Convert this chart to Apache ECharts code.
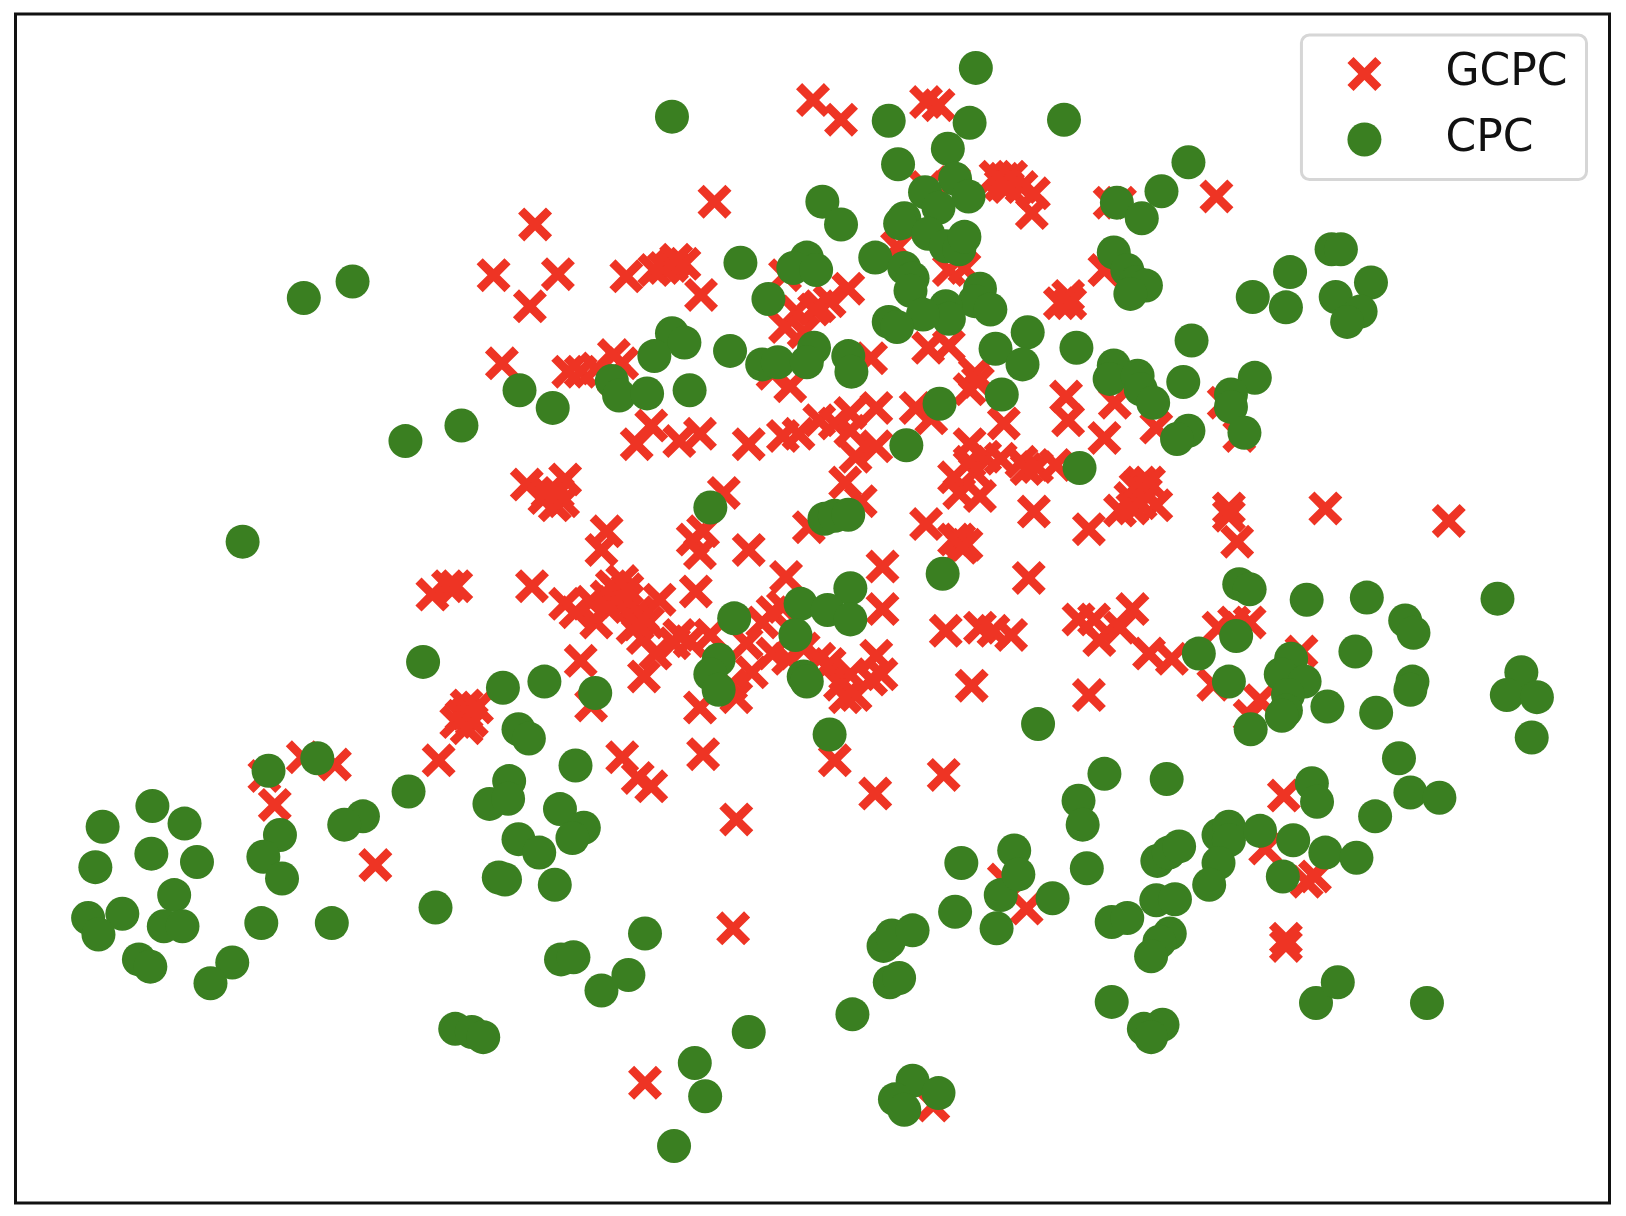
<!DOCTYPE html>
<html><head><meta charset="utf-8">
<script src="https://cdn.jsdelivr.net/npm/echarts@6/dist/echarts.min.js"></script>
<style>html,body{margin:0;padding:0;background:#fff}#c{width:1626px;height:1216px;filter:blur(0.7px)}</style>
</head><body><div id="c"></div>
<script>
const seriesNames = ['GCPC', 'CPC'];
const gcpc = [[784,96],[811,115],[893,98],[905,101],[689,194],[516,216],[476,265],[538,264],[511,295],[604,266],[631,260],[648,256],[660,254],[640,258],[652,250],[676,284],[484,350],
[548,358],[560,358],[575,355],[592,342],[600,350],[592,365],
[960,170],[968,172],[975,170],[965,178],[972,180],[985,180],[997,186],[995,205],[1070,195],[1080,195],[1173,189],
[893,180],[920,175],[865,238],[915,260],[930,258],
[757,265],[768,300],[790,295],[800,290],[785,298],[818,278],[757,315],[775,320],
[1030,285],[1022,292],[1032,292],[1065,260],
[762,372],[745,360],[840,345],[895,335],[915,333],[940,360],[935,375],[943,368],[883,393],[898,403],[968,408],[1028,382],[1030,405],[1075,388],[1115,412],[1065,422],[1195,420],[1180,388],
[628,410],[614,428],[655,425],[675,418],[722,428],[755,420],[770,418],[790,405],[805,408],[820,398],[845,393],[820,415],[825,440],[845,430],[815,465],[830,483],
[935,428],[950,440],[965,442],[985,445],[990,452],[1000,450],[1018,448],[920,460],[940,455],[925,475],[945,478],[935,445],
[997,493],[1050,510],[893,505],[925,520],[932,525],[920,520],[928,528],
[1100,465],[1105,475],[1090,480],[1115,487],[1080,492],[1095,470],[1100,485],[1108,465],[1092,490],
[1185,490],[1185,497],[1193,522],[1278,490],[1397,502],
[508,467],[545,462],[525,480],[543,483],[535,487],[528,475],[538,475],
[698,475],[780,508],[585,512],[580,530],[668,520],[678,512],[675,533],[722,530],
[417,573],[432,565],[440,565],[513,565],[758,556],[851,546],[671,570],[992,557],
[595,570],[585,575],[605,578],[570,580],[545,582],[555,590],[575,600],[615,590],[610,605],[636,578],[625,600],[620,615],[590,565],[600,560],[595,580],[585,585],[605,568],[615,602],
[851,587],[560,637],[621,652],[632,630],[650,620],[665,618],[685,612],[655,612],[720,620],[735,600],[745,590],[755,585],[725,648],[745,630],[760,635],[775,625],[705,660],
[800,640],[820,650],[810,660],[840,655],[845,632],[850,650],[825,670],[815,672],[790,635],
[912,608],[945,605],[958,608],[975,612],[937,661],[1050,670],
[1040,597],[1055,597],[1092,587],[1060,617],[1080,605],[1108,630],[1130,635],
[1175,605],[1205,600],[1190,600],[1170,660],[1215,675],[1205,690],[1255,628],
[570,680],[675,682],[710,672],[450,688],[455,695],[445,690],[450,680],[440,696],[460,682],[450,702],[423,733],[678,727],[600,730],[615,750],[628,758],[805,733],[844,765],[910,747],[710,790],
[1238,767],[1220,818],[1260,850],[1268,845],[1240,905],[1240,912],[707,895],
[255,748],[292,730],[323,737],[265,776],[362,834],[968,848],[990,876],[622,1044],[900,1066]];
const cpc = [[941,65],[648,112],[857,116],[935,118],[1026,115],[914,143],[866,158],[921,172],[892,185],[934,189],[793,194],[811,216],[905,200],[872,210],[868,215],[895,225],[912,237],[925,240],[930,228],[1146,156],[1120,184],[1077,195],[1101,210],[1074,243],[1087,260],[1095,272],[1105,275],[1090,283],
[1284,240],[1293,240],[1244,262],[1208,286],[1240,296],[1288,286],[1322,272],[1312,300],[1299,310],
[293,287],[340,271],[714,253],[778,248],[765,258],[787,260],[844,248],[872,258],[880,268],[878,280],[741,288],[945,278],[940,290],[955,298],[912,295],[915,307],[890,303],[857,310],[865,315],
[648,321],[660,330],[631,343],[704,338],[735,351],[750,349],[785,335],[778,349],[818,343],[821,358],[991,320],[960,336],[986,351],[1038,335],[1149,328],
[501,376],[533,393],[590,367],[597,381],[624,379],[665,376],[966,380],[906,389],[445,410],[391,425],[874,429],
[1074,352],[1070,365],[1097,362],[1100,375],[1112,388],[1141,368],[1210,364],[1187,380],[1187,392],[1200,417],[1146,415],[1135,423],
[1041,451],[685,489],[795,500],[805,497],[818,496],[234,522],[909,553],
[1195,563],[1205,568],[1260,578],[1318,576],[1355,598],[1363,610],[1444,577],[1192,613],[820,567],[772,582],[798,588],[820,597],[708,596],[767,612],
[408,638],[1156,630],[1307,628],[1245,635],[1235,650],[1258,657],[1242,670],[1240,685],[1236,690],[1185,657],[1280,681],[1362,657],[1360,665],[1327,687],[1206,703],
[1467,648],[1453,670],[1482,672],[1477,711],[1001,698],[485,663],[525,657],[574,668],[693,636],[685,650],[693,665],[775,652],[778,657],[500,703],[510,712],[555,738],[800,708],
[1349,731],[1065,746],[1125,751],[1265,755],[1270,773],[1360,764],[1388,769],[1326,787],
[259,743],[306,731],[394,763],[350,787],[332,795],[491,753],[472,775],[490,770],[540,780],[563,798],[552,808],[500,809],[520,822],[481,846],[487,848],[535,853],[270,805],[254,826],[272,847],
[147,777],[99,797],[178,794],[146,823],[92,836],[190,831],[168,863],[118,881],[85,885],[95,901],[158,893],[176,893],[252,890],[320,890],[420,875],[134,925],[145,932],[224,928],[203,948],
[622,900],[541,925],[553,923],[606,940],[580,955],[722,995],[439,992],[455,995],[466,1000],[670,1025],[680,1057],[650,1105],
[880,1042],[863,1060],[872,1070],[905,1054],[822,978],[857,908],[852,912],[860,902],[880,897],[858,947],[867,943],
[921,879],[961,895],[965,863],[978,820],[982,843],[927,832],[1015,866],[1040,772],[1044,795],[1048,837],
[1072,889],[1087,885],[1116,830],[1127,822],[1137,816],[1175,805],[1185,797],[1185,810],[1215,801],[1247,810],[1278,822],[1308,827],[1237,845],[1175,832],[1166,853],[1115,868],[1133,867],[1128,900],[1118,908],[1110,922],
[1072,966],[1103,992],[1121,988],[1110,1000],[1269,967],[1290,947],[1376,967]];

const xMark = 'path://M18 0 L50 32 L82 0 L100 18 L68 50 L100 82 L82 100 L50 68 L18 100 L0 82 L32 50 L0 18 Z';
const chart = echarts.init(document.getElementById('c'), null, {renderer:'canvas'});
chart.setOption({
  animation:false,
  backgroundColor:'#fff',
  grid:{left:15.5,right:16.5,top:14,bottom:13,show:true,borderColor:'#111',borderWidth:3,backgroundColor:'#fff'},
  xAxis:{type:'value',min:15,max:1552,show:false},
  yAxis:{type:'value',min:13,max:1160,inverse:true,show:false},
  legend:{
    show:true,orient:'vertical',right:39.5,top:35,
    data:seriesNames,
    itemWidth:34,itemHeight:34,itemGap:21.5,
    padding:[17,19,18,46],
    backgroundColor:'rgba(255,255,255,0.85)',
    borderColor:'#d6d6d6',borderWidth:3,borderRadius:8,
    textStyle:{fontFamily:'DejaVu Sans',fontSize:44,color:'#111',padding:[0,0,6,59]}
  },
  series:[
    {name:seriesNames[0],type:'scatter',data:gcpc,symbol:xMark,symbolSize:34,itemStyle:{color:'#ee3424',opacity:1},silent:true,z:2},
    {name:seriesNames[1],type:'scatter',data:cpc,symbol:'circle',symbolSize:34,itemStyle:{color:'#3a7f21',opacity:1},silent:true,z:3}
  ]
});
</script></body></html>
